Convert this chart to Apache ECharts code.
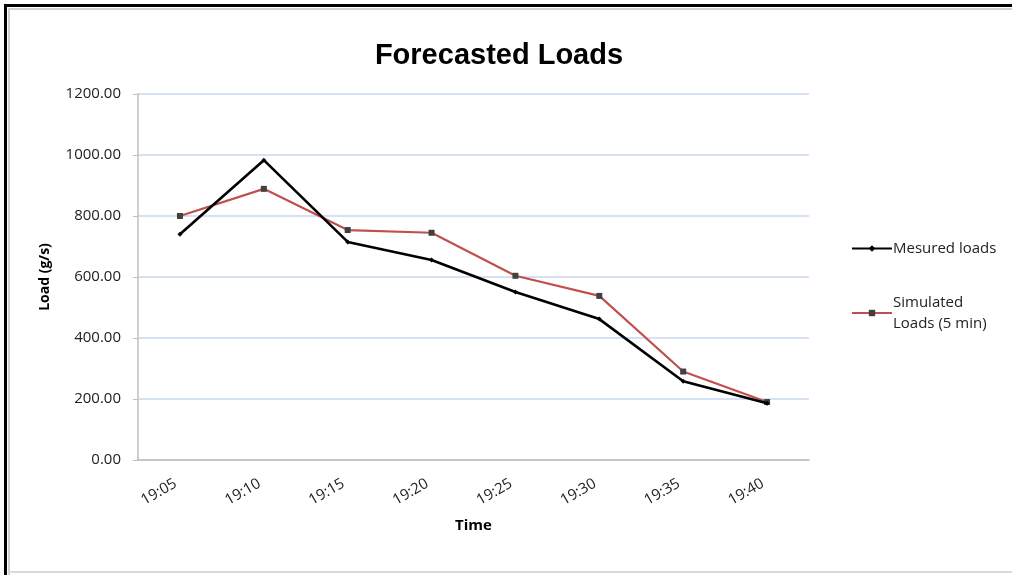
<!DOCTYPE html>
<html>
<head>
<meta charset="utf-8">
<script src="https://cdn.jsdelivr.net/npm/echarts@6/dist/echarts.min.js"></script>
<style>
  html, body { margin: 0; padding: 0; background: #fff; }
  #chart { width: 1012px; height: 575px; }
</style>
</head>
<body>
<div id="chart"></div>
<script>
// Time stamps (5-minute steps)
const times = ['19:05', '19:10', '19:15', '19:20', '19:25', '19:30', '19:35', '19:40'];
// Measured loads, g/s
const measured = [740, 983, 715, 656, 551, 462, 258, 186];
// Simulated loads with a 5 minute horizon, g/s
const simulated = [800, 889, 754, 745, 604, 538, 290, 190];
const seriesNames = ['Mesured loads', 'Simulated Loads (5 min)'];

const chart = echarts.init(document.getElementById('chart'));

chart.setOption({
  animation: false,
  backgroundColor: '#ffffff',
  title: {
    text: 'Forecasted Loads',
    left: 494,
    top: 36,
    textAlign: 'center',
    textStyle: {
      fontFamily: 'Liberation Sans',
      fontWeight: 'bold',
      fontSize: 29,
      color: '#000'
    }
  },
  grid: { left: 138, right: 203, top: 94, bottom: 115 },
  legend: {
    orient: 'vertical',
    left: 846,
    top: 233,
    itemGap: 33,
    itemWidth: 40,
    itemHeight: 8,
    data: seriesNames,
    formatter: function (name) {
      return name === 'Simulated Loads (5 min)' ? 'Simulated\nLoads (5 min)' : name;
    },
    textStyle: {
      fontFamily: 'Open Sans',
      fontSize: 15,
      color: '#222',
      lineHeight: 21,
      padding: [0, 0, 0, -4]
    }
  },
  xAxis: {
    type: 'category',
    data: times,
    boundaryGap: true,
    name: 'Time',
    nameLocation: 'middle',
    nameGap: 58,
    nameTextStyle: {
      fontFamily: 'Open Sans',
      fontWeight: 'bold',
      fontSize: 15,
      color: '#000'
    },
    axisLine: { lineStyle: { color: '#bfbfbf', width: 1.5 } },
    axisTick: { show: false },
    axisLabel: {
      rotate: 30,
      margin: 20,
      padding: [0, 5, 0, 0],
      fontFamily: 'Open Sans',
      fontSize: 15,
      color: '#222'
    }
  },
  yAxis: {
    type: 'value',
    min: 0,
    max: 1200,
    interval: 200,
    name: 'Load (g/s)',
    nameLocation: 'middle',
    nameGap: 86,
    nameTextStyle: {
      fontFamily: 'Open Sans',
      fontWeight: 'bold',
      fontSize: 14,
      color: '#000'
    },
    axisLine: { show: true, lineStyle: { color: '#bfbfbf', width: 1.5 } },
    axisTick: { show: true, length: 5, lineStyle: { color: '#bfbfbf' } },
    splitLine: { lineStyle: { color: '#c6d9f1', width: 1.5 } },
    axisLabel: {
      margin: 17,
      fontFamily: 'Open Sans',
      fontSize: 15,
      color: '#222',
      formatter: function (v) { return v.toFixed(2); }
    }
  },
  series: [
    {
      name: seriesNames[0],
      type: 'line',
      data: measured,
      color: '#000000',
      symbol: 'diamond',
      symbolSize: 5,
      itemStyle: { color: '#000000' },
      lineStyle: { color: '#000000', width: 2.6 },
      z: 3
    },
    {
      name: seriesNames[1],
      type: 'line',
      data: simulated,
      color: '#c0504d',
      symbol: 'rect',
      symbolSize: 6,
      itemStyle: { color: '#404040', borderWidth: 0 },
      lineStyle: { color: '#c0504d', width: 2.2 },
      z: 2
    }
  ],
  graphic: [
    // outer frame: dark edges top and left, light inner edges
    { type: 'rect', shape: { x: 4, y: 4, width: 1010, height: 3 }, style: { fill: '#000' }, silent: true },
    { type: 'rect', shape: { x: 4, y: 4, width: 3, height: 571 }, style: { fill: '#000' }, silent: true },
    { type: 'rect', shape: { x: 8, y: 8, width: 1004, height: 2 }, style: { fill: '#d0d0d0' }, silent: true },
    { type: 'rect', shape: { x: 8, y: 8, width: 2, height: 567 }, style: { fill: '#d0d0d0' }, silent: true },
    { type: 'rect', shape: { x: 8, y: 571, width: 1004, height: 2 }, style: { fill: '#d9d9d9' }, silent: true }
  ]
});
</script>
</body>
</html>
